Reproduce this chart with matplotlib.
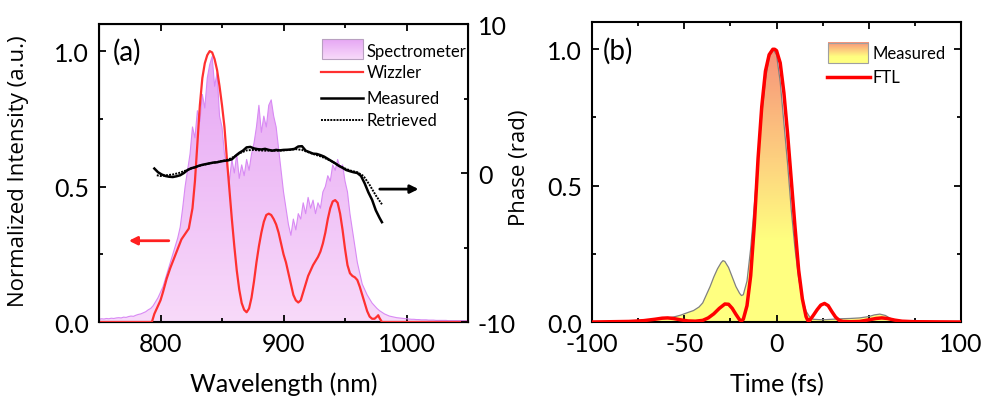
import numpy as np
import matplotlib.pyplot as plt
from matplotlib.colors import LinearSegmentedColormap
from matplotlib.ticker import MultipleLocator

plt.rcParams['font.family'] = ['Lato', 'DejaVu Sans']
plt.rcParams['axes.unicode_minus'] = False

# ---- panel (a): spectrum, 2 nm grid from 750 to 1050 nm
wl_spec = np.arange(750, 1051, 2)
spec = [
    0.010, 0.012, 0.011, 0.013, 0.012, 0.014, 0.013, 0.015, 0.016, 0.015,
    0.018, 0.017, 0.020, 0.022, 0.021, 0.025, 0.028, 0.030, 0.034, 0.038,
    0.045, 0.050, 0.060, 0.075, 0.090, 0.110, 0.130, 0.160, 0.190, 0.220,
    0.250, 0.280, 0.310, 0.350, 0.420, 0.500, 0.560, 0.620, 0.720, 0.680,
    0.780, 0.740, 0.840, 0.790, 0.900, 0.950, 0.980, 0.870, 0.920, 0.760,
    0.720, 0.620, 0.580, 0.520, 0.600, 0.550, 0.620, 0.530, 0.580, 0.540,
    0.600, 0.560, 0.620, 0.660, 0.720, 0.800, 0.700, 0.760, 0.720, 0.800,
    0.820, 0.760, 0.720, 0.640, 0.560, 0.480, 0.420, 0.360, 0.320, 0.380,
    0.340, 0.400, 0.380, 0.440, 0.400, 0.460, 0.420, 0.450, 0.400, 0.440,
    0.420, 0.480, 0.500, 0.540, 0.520, 0.580, 0.560, 0.600, 0.570, 0.580,
    0.520, 0.480, 0.400, 0.340, 0.280, 0.220, 0.180, 0.140, 0.120, 0.100,
    0.085, 0.070, 0.060, 0.050, 0.042, 0.036, 0.030, 0.026, 0.022, 0.020,
    0.018, 0.016, 0.015, 0.014, 0.013, 0.012, 0.011, 0.010, 0.010, 0.009,
    0.009, 0.008, 0.008, 0.008, 0.007, 0.007, 0.007, 0.006, 0.006, 0.006,
    0.006, 0.006, 0.005, 0.005, 0.005, 0.005, 0.005, 0.005, 0.005, 0.005,
    0.005,
]

wl_wiz = [750, 790, 793, 795, 798, 800, 802, 805, 808, 811, 814, 817, 820, 823,
          826, 828, 830, 832, 834, 836, 838, 840, 842, 844, 846, 848, 850, 852,
          854, 856, 858, 860, 862, 864, 866, 868, 870, 872, 874, 876, 878, 880,
          882, 884, 886, 888, 890, 892, 894, 896, 898, 900, 902, 904, 906, 908,
          910, 912, 914, 916, 918, 920, 922, 924, 926, 928, 930, 932, 934, 936,
          938, 940, 942, 944, 946, 948, 950, 952, 954, 956, 958, 960, 962, 964,
          966, 968, 970, 972, 974, 976, 977, 978, 980, 1050]
wizzler = [0, 0, 0.0, 0.03, 0.06, 0.08, 0.11, 0.16, 0.2, 0.235, 0.27, 0.305, 0.325, 0.345,
           0.42, 0.52, 0.66, 0.8, 0.9, 0.955, 0.985, 1.0, 0.995, 0.97, 0.93, 0.87, 0.8, 0.72,
           0.6, 0.49, 0.38, 0.28, 0.19, 0.12, 0.07, 0.045, 0.036, 0.05, 0.09, 0.15, 0.22, 0.28,
           0.33, 0.37, 0.395, 0.40, 0.395, 0.38, 0.36, 0.33, 0.29, 0.25, 0.22, 0.18, 0.14, 0.10,
           0.08, 0.072, 0.08, 0.11, 0.14, 0.17, 0.19, 0.21, 0.225, 0.24, 0.26, 0.29, 0.33, 0.38,
           0.42, 0.445, 0.45, 0.44, 0.40, 0.34, 0.27, 0.21, 0.18, 0.17, 0.165, 0.155, 0.13, 0.10,
           0.07, 0.04, 0.02, 0.012, 0.012, 0.02, 0.025, 0.015, 0.0, 0.0]

wl_meas = [795, 798, 801, 804, 807, 810, 813, 816, 819, 822, 825, 828, 831, 834, 837,
           840, 843, 846, 849, 852, 855, 858, 861, 864, 867, 870, 873, 876, 879, 882,
           885, 888, 891, 894, 897, 900, 903, 906, 909, 912, 915, 918, 921, 924, 927,
           930, 933, 936, 939, 942, 945, 948, 951, 954, 957, 960, 963, 966, 969, 972,
           975, 978, 980]
phase_meas = [0.3, 0.05, -0.1, -0.2, -0.25, -0.27, -0.22, -0.15, 0.0, 0.2, 0.32, 0.38,
              0.48, 0.55, 0.6, 0.65, 0.7, 0.72, 0.78, 0.82, 0.85, 0.92, 1.15, 1.35, 1.5,
              1.72, 1.75, 1.65, 1.6, 1.58, 1.62, 1.55, 1.5, 1.55, 1.52, 1.55, 1.56, 1.58,
              1.62, 1.78, 1.8, 1.5, 1.4, 1.3, 1.28, 1.2, 1.1, 0.95, 0.8, 0.65, 0.48, 0.35,
              0.2, 0.12, 0.05, 0.0, -0.2, -0.7, -1.3, -1.8, -2.5, -3.0, -3.3]

wl_ret = [797, 800, 805, 810, 815, 820, 825, 830, 835, 840, 845, 850, 855, 860, 865,
          870, 875, 880, 885, 890, 895, 900, 905, 910, 915, 920, 925, 930, 935, 940,
          945, 950, 955, 960, 965, 970, 975, 980]
phase_ret = [-0.15, -0.2, -0.15, -0.1, 0.0, 0.15, 0.3, 0.45, 0.55, 0.65, 0.72, 0.8, 0.9,
             1.1, 1.35, 1.52, 1.55, 1.52, 1.5, 1.5, 1.5, 1.52, 1.55, 1.6, 1.55, 1.4, 1.25,
             1.12, 0.95, 0.75, 0.5, 0.3, 0.15, 0.05, -0.2, -0.8, -1.5, -2.1]

# ---- panel (b): temporal profiles
t_meas = [-100, -90, -80, -75, -70, -65, -60, -56, -52, -48, -45, -42, -40, -38, -36,
          -34, -32, -30, -29, -28, -26, -24, -22, -20, -19, -18, -16, -14, -12, -10,
          -8, -6, -4, -2, 0, 2, 4, 6, 8, 10, 12, 14, 16, 18, 20, 25, 30, 35, 40, 45,
          50, 53, 56, 59, 62, 66, 70, 80, 90, 100]
i_meas = [0.0, 0.0, 0.002, 0.003, 0.006, 0.01, 0.014, 0.018, 0.025, 0.035, 0.042, 0.055,
          0.07, 0.1, 0.13, 0.165, 0.195, 0.218, 0.225, 0.222, 0.2, 0.165, 0.13, 0.105,
          0.097, 0.1, 0.15, 0.27, 0.43, 0.6, 0.76, 0.89, 0.97, 1.0, 0.98, 0.88, 0.73,
          0.58, 0.41, 0.27, 0.16, 0.085, 0.04, 0.018, 0.01, 0.008, 0.01, 0.012, 0.013,
          0.015, 0.02, 0.026, 0.029, 0.024, 0.012, 0.005, 0.003, 0.003, 0.0, 0.0]

t_ftl = [-100, -80, -72, -66, -62, -59, -56, -52, -48, -44, -40, -37, -34, -31, -28, -26,
         -24, -22, -20, -19, -18, -16, -14, -12, -10, -8, -6, -4, -2, -1, 0, 2, 4, 6, 8,
         10, 12, 14, 16, 17, 18, 20, 22, 24, 26, 28, 30, 32, 34, 36, 40, 45, 50, 54, 57,
         60, 64, 68, 75, 100]
i_ftl = [0.0, 0.002, 0.005, 0.01, 0.014, 0.015, 0.013, 0.008, 0.004, 0.003, 0.006, 0.015,
         0.03, 0.05, 0.066, 0.065, 0.05, 0.028, 0.008, 0.004, 0.01, 0.06, 0.17, 0.36, 0.6,
         0.79, 0.92, 0.98, 1.0, 1.0, 0.995, 0.95, 0.84, 0.69, 0.52, 0.35, 0.19, 0.085, 0.02,
         0.005, 0.006, 0.025, 0.045, 0.062, 0.068, 0.06, 0.038, 0.018, 0.006, 0.002, 0.001,
         0.002, 0.008, 0.013, 0.015, 0.013, 0.007, 0.003, 0.001, 0.0]

spec_cmap = LinearSegmentedColormap.from_list('spec', ['#f8dafa', '#e6a6f4'])
meas_cmap = LinearSegmentedColormap.from_list(
    'meas', [(0, '#ffff80'), (0.3, '#ffff80'), (0.6, '#fdd07f'), (1.0, '#f7937a')])


def gradient_fill(ax, x, y, cmap, top=1.0):
    poly = ax.fill_between(x, 0, y, facecolor='none', edgecolor='none')
    grad = np.linspace(0, 1, 256).reshape(-1, 1)
    im = ax.imshow(grad, cmap=cmap, origin='lower', aspect='auto',
                   extent=[min(x), max(x), 0, top], zorder=1)
    im.set_clip_path(poly.get_paths()[0], transform=ax.transData)
    return im


def legend_patch(ax, x0, y0, w, h, cmap, edge):
    grad = np.linspace(0, 1, 64).reshape(-1, 1)
    ax.imshow(grad, cmap=cmap, origin='lower', aspect='auto',
              extent=[x0, x0 + w, y0, y0 + h], transform=ax.transAxes, zorder=5)
    ax.add_patch(plt.Rectangle((x0, y0), w, h, transform=ax.transAxes,
                               facecolor='none', edgecolor=edge, lw=0.8, zorder=6))


def style(ax, xmaj, xmin):
    ax.xaxis.set_major_locator(MultipleLocator(xmaj))
    ax.xaxis.set_minor_locator(MultipleLocator(xmin))
    ax.tick_params(which='both', direction='in', width=1.3, labelsize=18, pad=7)
    ax.tick_params(which='major', length=5)
    ax.tick_params(which='minor', length=3)
    for s in ax.spines.values():
        s.set_linewidth(1.5)


fig = plt.figure(figsize=(9.87, 4.02), dpi=100)

# ---------------- (a)
ax1 = fig.add_axes([0.1003, 0.1965, 0.3739, 0.7413])
gradient_fill(ax1, wl_spec, spec, spec_cmap)
ax1.plot(wl_spec, spec, color='#d88af4', lw=0.8, zorder=2)
ax1.plot(wl_wiz, wizzler, color='#ff3030', lw=1.6, zorder=3)
ax1.set_xlim(750, 1050)
ax1.set_ylim(0, 1.1)
style(ax1, 100, 50)
ax1.yaxis.set_major_locator(MultipleLocator(0.5))
ax1.yaxis.set_minor_locator(MultipleLocator(0.25))
ax1.yaxis.set_major_formatter('{x:.1f}')
ax1.tick_params(top=True, which='both')
ax1.set_xlabel('Wavelength (nm)', fontsize=18)
ax1.set_ylabel('Normalized Intensity (a.u.)', fontsize=16, family=['Open Sans', 'DejaVu Sans'])
ax1.yaxis.set_label_coords(-0.19, 0.51)
ax1.xaxis.set_label_coords(0.5, -0.165)
ax1.annotate('', xy=(772, 0.30), xytext=(809, 0.30),
             arrowprops=dict(arrowstyle='-|>', color='#ff2020', lw=2, mutation_scale=12))

ax2 = ax1.twinx()
ax2.plot(wl_meas, phase_meas, color='black', lw=1.8, zorder=4)
ax2.plot(wl_ret, phase_ret, color='black', lw=1.4, ls=(0, (1, 0.6)), zorder=4)
ax2.set_ylim(-10, 10)
ax2.yaxis.set_major_locator(MultipleLocator(10))
ax2.yaxis.set_minor_locator(MultipleLocator(5))
ax2.tick_params(which='both', direction='in', width=1.3, labelsize=18, pad=7)
ax2.tick_params(which='major', length=5)
ax2.tick_params(which='minor', length=3)
ax2.set_ylabel('Phase (rad)', fontsize=16, family=['Open Sans', 'DejaVu Sans'])
ax2.yaxis.set_label_coords(1.11, 0.52)
ax2.annotate('', xy=(1012, -1.08), xytext=(976, -1.08),
             arrowprops=dict(arrowstyle='-|>', color='black', lw=2, mutation_scale=12))
ax2.text(0.036, 0.91, '(a)', transform=ax2.transAxes, fontsize=20, va='center')

# legend (a)
legend_patch(ax2, 0.6035, 0.8826, 0.111, 0.067, spec_cmap, '#b8a0c0')
ax2.plot([0.6008, 0.7165], [0.838, 0.838], transform=ax2.transAxes, color='#ff3030', lw=1.6)
ax2.plot([0.6008, 0.7165], [0.7517, 0.7517], transform=ax2.transAxes, color='black', lw=1.8)
ax2.plot([0.6008, 0.7165], [0.6789, 0.6789], transform=ax2.transAxes, color='black', lw=1.4,
         ls=(0, (1, 0.6)))
for yy, lab in zip([0.9104, 0.838, 0.7517, 0.6789],
                   ['Spectrometer', 'Wizzler', 'Measured', 'Retrieved']):
    ax2.text(0.7255, yy, lab, transform=ax2.transAxes, fontsize=12, va='center')

# ---------------- (b)
ax3 = fig.add_axes([0.5998, 0.1965, 0.3739, 0.7463])
gradient_fill(ax3, t_meas, i_meas, meas_cmap)
ax3.plot(t_meas, i_meas, color='#808080', lw=0.9, zorder=2)
ax3.plot(t_ftl, i_ftl, color='#ff0000', lw=2.5, zorder=3)
ax3.set_xlim(-100, 100)
ax3.set_ylim(0, 1.1)
style(ax3, 50, 25)
ax3.yaxis.set_major_locator(MultipleLocator(0.5))
ax3.yaxis.set_minor_locator(MultipleLocator(0.25))
ax3.yaxis.set_major_formatter('{x:.1f}')
ax3.tick_params(top=True, right=True, which='both')
ax3.set_xlabel('Time (fs)', fontsize=18)
ax3.xaxis.set_label_coords(0.5, -0.165)
ax3.text(0.028, 0.905, '(b)', transform=ax3.transAxes, fontsize=20, va='center')

legend_patch(ax3, 0.6388, 0.8623, 0.11, 0.0677, meas_cmap, '#a0a0a0')
ax3.plot([0.636, 0.7524], [0.8177, 0.8177], transform=ax3.transAxes, color='#ff0000', lw=2.5)
ax3.text(0.7607, 0.8957, 'Measured', transform=ax3.transAxes, fontsize=12, va='center')
ax3.text(0.7607, 0.8177, 'FTL', transform=ax3.transAxes, fontsize=12, va='center')

fig.savefig('out.png', dpi=100)
